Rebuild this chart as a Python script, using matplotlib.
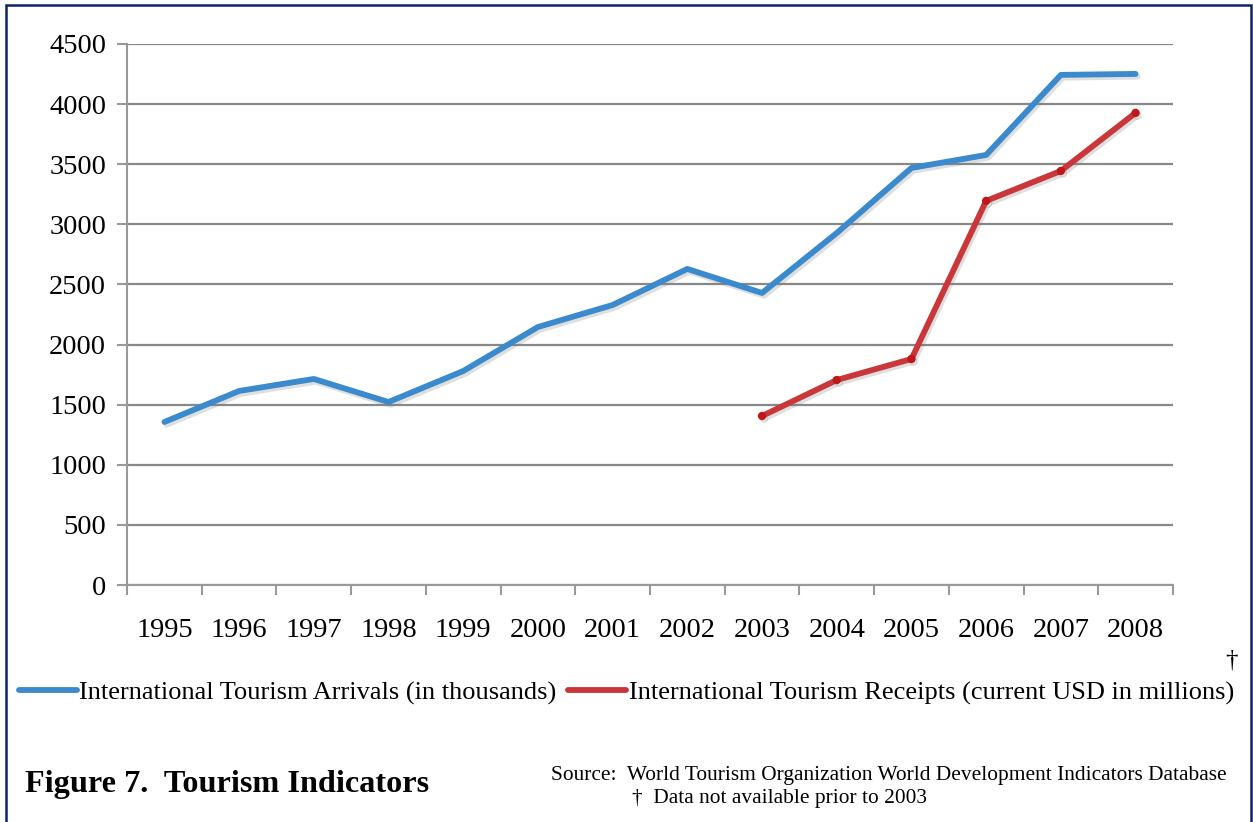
import numpy as np
import matplotlib
matplotlib.use("Agg")
import matplotlib.pyplot as plt
import matplotlib.patheffects as pe
from matplotlib.patches import Rectangle
from matplotlib.lines import Line2D

years = ["1995", "1996", "1997", "1998", "1999", "2000", "2001",
         "2002", "2003", "2004", "2005", "2006", "2007", "2008"]
arrivals = [1356, 1614, 1714, 1522, 1780, 2146, 2329,
            2629, 2429, 2928, 3469, 3577, 4243, 4251]
receipt_years = ["2003", "2004", "2005", "2006", "2007", "2008"]
receipts = [1406, 1705, 1880, 3195, 3444, 3927]

label_arr = 'International Tourism Arrivals (in thousands)'
label_rec = 'International Tourism Receipts (current USD in millions)'
blue = '#3a8acd'
red = '#c9373a'

plt.rcParams['font.family'] = ['Liberation Serif', 'DejaVu Serif']

fig = plt.figure(figsize=(12.53, 8.22), dpi=100)
ax = fig.add_axes([0.1014, 0.2883, 0.8347, 0.6582])

x = np.arange(len(years))
xr = np.array([years.index(y) for y in receipt_years])

shadow = [pe.SimpleLineShadow(offset=(1.5, -2), shadow_color='gray', alpha=0.25),
          pe.Normal()]

ax.plot(x, arrivals, color=blue, lw=4.2, solid_capstyle='round',
        solid_joinstyle='round', path_effects=shadow, zorder=3)
ax.plot(xr, receipts, color=red, lw=4.2, solid_capstyle='round',
        solid_joinstyle='round', marker='o', ms=5, mfc='#c01818',
        mec='#c01818', path_effects=shadow, zorder=3)

ax.set_xlim(-0.5, len(years) - 0.5)
ax.set_ylim(0, 4500)
ax.set_yticks(np.arange(0, 4501, 500))
ax.set_xticks(x)
ax.set_xticklabels(years)
ax.set_xticks(np.arange(-0.5, len(years), 1), minor=True)

ax.grid(axis='y', color='#888888', lw=1.6, zorder=1)
ax.set_axisbelow(True)
for s in ['top', 'right']:
    ax.spines[s].set_visible(False)
for s in ['left', 'bottom']:
    ax.spines[s].set_color('#999999')
    ax.spines[s].set_linewidth(1.5)

ax.tick_params(axis='x', which='major', length=0, pad=24, labelsize=20.5)
ax.tick_params(axis='x', which='minor', length=7, width=1.5, color='#999999')
ax.tick_params(axis='y', length=7, width=1.5, color='#999999', pad=8,
               labelsize=20.5)

h1 = Line2D([], [], color=blue, lw=4.2, solid_capstyle='round')
h2 = Line2D([], [], color=red, lw=4.2, solid_capstyle='round')
fig.legend(handles=[h1, h2], labels=[label_arr, label_rec], loc='center',
           bbox_to_anchor=(0.5, 0.157), ncol=2, frameon=False, fontsize=19,
           handlelength=2.2, handletextpad=0.08, columnspacing=0.45)
fig.text(1232 / 1253, 1 - 660 / 822, "†", fontsize=18, ha='center', va='center')

fig.text(25 / 1253, 1 - 784 / 822, "Figure 7.  Tourism Indicators",
         fontsize=23.2, fontweight='bold', ha='left', va='center')
fig.text(551 / 1253, 1 - 775 / 822,
         "Source:  World Tourism Organization World Development Indicators Database",
         fontsize=15.4, ha='left', va='center')
fig.text(632 / 1253, 1 - 798 / 822, "†  Data not available prior to 2003",
         fontsize=15.4, ha='left', va='center')

fig.patches.append(Rectangle((6 / 1253, -0.05), 1245 / 1253, 1 - 5 / 822 + 0.05,
                             transform=fig.transFigure, fill=False,
                             edgecolor='#0f2466', lw=1.8))

fig.savefig("out.png", dpi=100)
